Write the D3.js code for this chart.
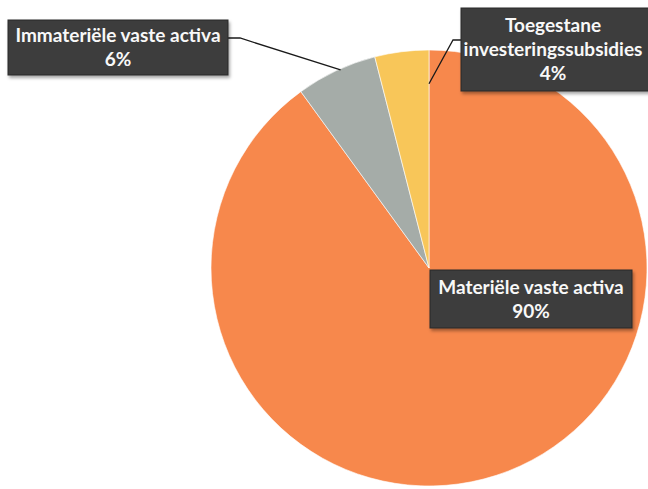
<!DOCTYPE html>
<html>
<head>
<meta charset="utf-8">
<script src="https://cdn.jsdelivr.net/npm/d3@7"></script>
<style>
  html, body { margin: 0; padding: 0; background: #ffffff; }
  svg { display: block; }
</style>
</head>
<body>
<svg id="chart" width="648" height="489"></svg>
<script>
// Composition of fixed assets (vaste activa)
const categories = ["Materiële vaste activa", "Immateriële vaste activa", "Toegestane investeringssubsidies"];
const values = [90, 6, 4];
const colors = ["#f7884c", "#a5aca8", "#f8c659"];
// Label lines (multi-line data labels)
const labelLines = [
  ["Materiële vaste activa", "90%"],
  ["Immateriële vaste activa", "6%"],
  ["Toegestane", "investeringssubsidies", "4%"]
];

const svg = d3.select("#chart");
const cx = 429, cy = 268, R = 218;

const defs = svg.append("defs");
const shadow = defs.append("filter").attr("id", "shadow")
  .attr("x", "-10%").attr("y", "-10%").attr("width", "125%").attr("height", "135%");
shadow.append("feDropShadow").attr("dx", 1.5).attr("dy", 2.5)
  .attr("stdDeviation", 1.8).attr("flood-color", "#000").attr("flood-opacity", 0.35);

const pie = d3.pie().sort(null).value(d => d)(values);
const arc = d3.arc().innerRadius(0).outerRadius(R);

const g = svg.append("g").attr("transform", `translate(${cx},${cy})`);
g.selectAll("path.slice")
  .data(pie)
  .join("path")
  .attr("class", "slice")
  .attr("d", arc)
  .attr("fill", (d, i) => colors[i])
  .attr("stroke", "#ffffff")
  .attr("stroke-width", 0.6);

// Point at a given angle and radius from the pie centre
function pt(angle, r) {
  return [cx + r * Math.sin(angle), cy - r * Math.cos(angle)];
}

// Box placements for each label: left, top, width, height
const boxes = [
  { x: 430, y: 270, w: 202, h: 58 },
  { x: 8, y: 20, w: 220, h: 55 },
  { x: 461, y: 8, w: 190, h: 83 }
];
const lineGap = 24;

// Leader lines for the two small slices
const greyMid = (pie[1].startAngle + pie[1].endAngle) / 2 - 2 * Math.PI;
const greyEnd = pt(greyMid + 0.02, R * 0.995);
const yellowEnd = pt(pie[2].endAngle, R * 0.845);
const leaders = [
  [[boxes[1].x + boxes[1].w, 38], [240, 38], greyEnd],
  [[boxes[2].x, 40], [453, 40], yellowEnd]
];
svg.selectAll("path.leader")
  .data(leaders)
  .join("path")
  .attr("class", "leader")
  .attr("d", d => d3.line()(d))
  .attr("fill", "none")
  .attr("stroke", "#1a1a1a")
  .attr("stroke-width", 1.3);

// Data label boxes
const lab = svg.selectAll("g.label")
  .data(categories)
  .join("g")
  .attr("class", "label");

lab.append("rect")
  .attr("x", (d, i) => boxes[i].x)
  .attr("y", (d, i) => boxes[i].y)
  .attr("width", (d, i) => boxes[i].w)
  .attr("height", (d, i) => boxes[i].h)
  .attr("fill", "#3d3d3d")
  .attr("stroke", "#2a2a2a")
  .attr("stroke-width", 1)
  .attr("filter", "url(#shadow)");

lab.each(function (d, i) {
  const b = boxes[i];
  const lines = labelLines[i];
  const midY = b.y + b.h / 2;
  const x = b.x + b.w / 2 + (i === 2 ? -3 : 0);
  const tx = d3.select(this).append("text")
    .attr("text-anchor", "middle")
    .attr("font-family", "Lato, 'Open Sans', sans-serif")
    .attr("font-weight", 700)
    .attr("font-size", 19)
    .attr("fill", "#f8f8f8");
  lines.forEach((t, k) => {
    tx.append("tspan")
      .attr("x", x)
      .attr("y", midY + (k - (lines.length - 1) / 2) * lineGap)
      .attr("dy", "0.35em")
      .text(t);
  });
});
</script>
</body>
</html>
